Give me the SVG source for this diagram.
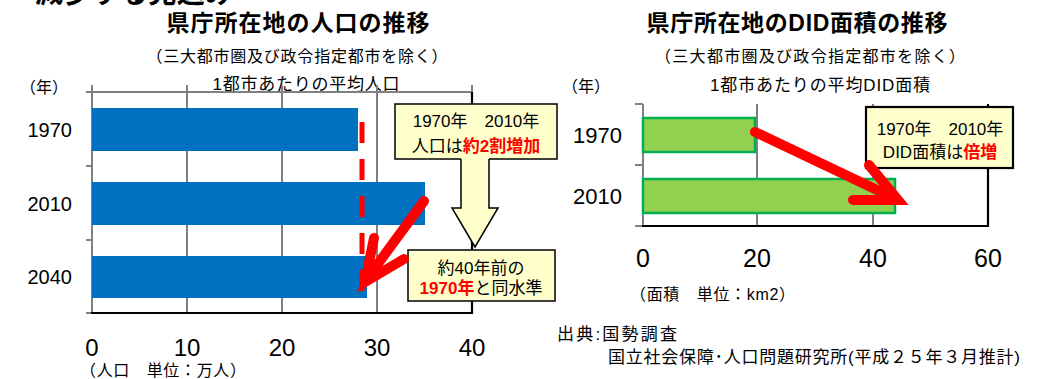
<svg xmlns="http://www.w3.org/2000/svg" width="1045" height="379" viewBox="0 0 1045 379">
<style>
  text { font-family: "Liberation Sans", "Noto Sans CJK JP", sans-serif; fill: #000; }
  .title { font-size: 23px; font-weight: bold; text-anchor: middle; }
  .sub { font-size: 16px; text-anchor: middle; }
  .cap { font-size: 17px; text-anchor: middle; }
  .unit { font-size: 16px; }
  .ylab { text-anchor: end; }
  .xlab { text-anchor: middle; }
  .grid { stroke: #808080; stroke-width: 2; fill: none; }
  .axis { stroke: #000; stroke-width: 2.2; fill: none; }
  .bar-blue { fill: #0070C0; }
  .bar-green { fill: #92D050; stroke: #00B050; stroke-width: 2.5; }
  .callout { fill: #FFFFCC; stroke: #000; stroke-width: 1.5; }
  .btxt { font-size: 17px; text-anchor: middle; }
  .em { fill: #FF0000; font-weight: bold; }
  .redarrow { fill: none; stroke: #FF0000; stroke-width: 10; stroke-linecap: round; stroke-linejoin: miter; }
</style>

<!-- clipped heading at very top -->
<text x="35" y="3" style="font-size:28px;font-weight:bold" textLength="198">減少する見込み</text>

<!-- ===== Left chart ===== -->
<g id="left-header">
  <text class="title" x="298" y="31" textLength="263">県庁所在地の人口の推移</text>
  <text class="sub" x="297" y="62" textLength="301">（三大都市圏及び政令指定都市を除く）</text>
  <text class="sub" x="20" y="93" style="text-anchor:start">（年）</text>
  <text class="cap" x="306" y="90" textLength="187">1都市あたりの平均人口</text>
</g>

<g id="left-axes">
  <line class="grid" x1="86" y1="92" x2="472" y2="92"/>
  <line class="grid" x1="92" y1="85" x2="92" y2="313"/>
  <line class="grid" x1="187" y1="85" x2="187" y2="313"/>
  <line class="grid" x1="282" y1="85" x2="282" y2="313"/>
  <line class="grid" x1="377" y1="85" x2="377" y2="313"/>
  <line class="grid" x1="472" y1="85" x2="472" y2="93"/>
  <line class="grid" x1="86" y1="166" x2="92" y2="166"/>
  <line class="grid" x1="86" y1="240" x2="92" y2="240"/>
  <line class="grid" x1="86" y1="313" x2="92" y2="313"/>
  <line class="axis" x1="472" y1="92" x2="472" y2="314"/>
  <line class="axis" x1="91" y1="313" x2="473" y2="313"/>
  <g style="font-size:24px">
    <text class="xlab" x="92" y="356">0</text>
    <text class="xlab" x="187" y="356">10</text>
    <text class="xlab" x="282" y="356">20</text>
    <text class="xlab" x="377" y="356">30</text>
    <text class="xlab" x="472" y="356">40</text>
  </g>
  <text class="unit" x="80" y="376" textLength="166">（人口　単位：万人）</text>
</g>

<g id="bar-1970">
  <rect class="bar-blue" x="92" y="108" width="266" height="43"/>
  <text class="ylab" x="72" y="137" style="font-size:20px">1970</text>
</g>
<g id="bar-2010">
  <rect class="bar-blue" x="92" y="182" width="333" height="43"/>
  <text class="ylab" x="72" y="211" style="font-size:20px">2010</text>
</g>
<g id="bar-2040">
  <rect class="bar-blue" x="92" y="256" width="275" height="42"/>
  <text class="ylab" x="72" y="284" style="font-size:20px">2040</text>
</g>

<g id="ref-line-1970">
  <line x1="362" y1="122" x2="362" y2="293" stroke="#FF0000" stroke-width="5" stroke-dasharray="21 16"/>
</g>

<!-- ===== Right chart ===== -->
<g id="right-header">
  <text class="title" x="797" y="31" textLength="301">県庁所在地のDID面積の推移</text>
  <text class="sub" x="810" y="62" textLength="310">（三大都市圏及び政令指定都市を除く）</text>
  <text class="sub" x="562" y="92" style="text-anchor:start">（年）</text>
  <text class="cap" x="820" y="91" textLength="220">1都市あたりの平均DID面積</text>
</g>

<g id="right-axes">
  <line class="grid" x1="643" y1="104" x2="643" y2="226"/>
  <line class="grid" x1="757" y1="104" x2="757" y2="226"/>
  <line class="grid" x1="873" y1="104" x2="873" y2="226"/>
  <line class="grid" x1="635" y1="104" x2="643" y2="104"/>
  <line class="grid" x1="635" y1="165" x2="643" y2="165"/>
  <line class="grid" x1="635" y1="226" x2="643" y2="226"/>
  <line class="axis" x1="988" y1="104" x2="988" y2="227"/>
  <line class="axis" x1="642" y1="226" x2="989" y2="226"/>
  <g style="font-size:25px">
    <text class="xlab" x="643" y="267">0</text>
    <text class="xlab" x="757" y="267">20</text>
    <text class="xlab" x="873" y="267">40</text>
    <text class="xlab" x="988" y="267">60</text>
  </g>
  <text class="unit" x="630" y="300" textLength="165">（面積　単位：km2）</text>
</g>

<g id="did-1970">
  <rect class="bar-green" x="643" y="118" width="112" height="34"/>
  <text class="ylab" x="622" y="143" style="font-size:22px">1970</text>
</g>
<g id="did-2010">
  <rect class="bar-green" x="643" y="179" width="252" height="34"/>
  <text class="ylab" x="622" y="204" style="font-size:22px">2010</text>
</g>

<!-- ===== Callouts ===== -->
<g id="callout-pop-increase">
  <rect class="callout" x="395" y="104" width="162" height="55"/>
  <text class="btxt" x="476" y="127">1970年　2010年</text>
  <text class="btxt" x="476" y="152">人口は<tspan class="em">約2割増加</tspan></text>
</g>

<g id="callout-pop-2040">
  <rect class="callout" x="408" y="250" width="147" height="51"/>
  <text class="btxt" x="481" y="274">約40年前の</text>
  <text class="btxt" x="481" y="294"><tspan class="em">1970年</tspan>と同水準</text>
</g>

<g id="callout-did">
  <rect class="callout" x="866" y="107" width="147" height="61" style="stroke-width:2.2"/>
  <text class="btxt" x="940" y="135">1970年　2010年</text>
  <text class="btxt" x="940" y="158">DID面積は<tspan class="em">倍増</tspan></text>
</g>

<!-- ===== Connectors ===== -->
<g id="connectors">
  <polygon points="461,157 489,157 489,208 498,208 475,247 452,208 461,208" fill="#FFFFCC" stroke="none"/>
  <polyline points="461,159 461,208 452,208 475,247 498,208 489,208 489,159" fill="none" stroke="#000" stroke-width="1.5" stroke-linejoin="miter"/>
  <path class="redarrow" d="M424,201 L366,280"/>
  <path class="redarrow" d="M374,238 L365,282 L404,259"/>
  <path class="redarrow" d="M755,132 L894,198"/>
  <path class="redarrow" d="M869,165 L898,200 L853,200"/>
</g>

<g id="source">
  <text x="557" y="340" style="font-size:17px" textLength="120">出典:国勢調査</text>
  <text x="608" y="363" style="font-size:17px" textLength="412">国立社会保障･人口問題研究所(平成２５年３月推計)</text>
</g>
</svg>
